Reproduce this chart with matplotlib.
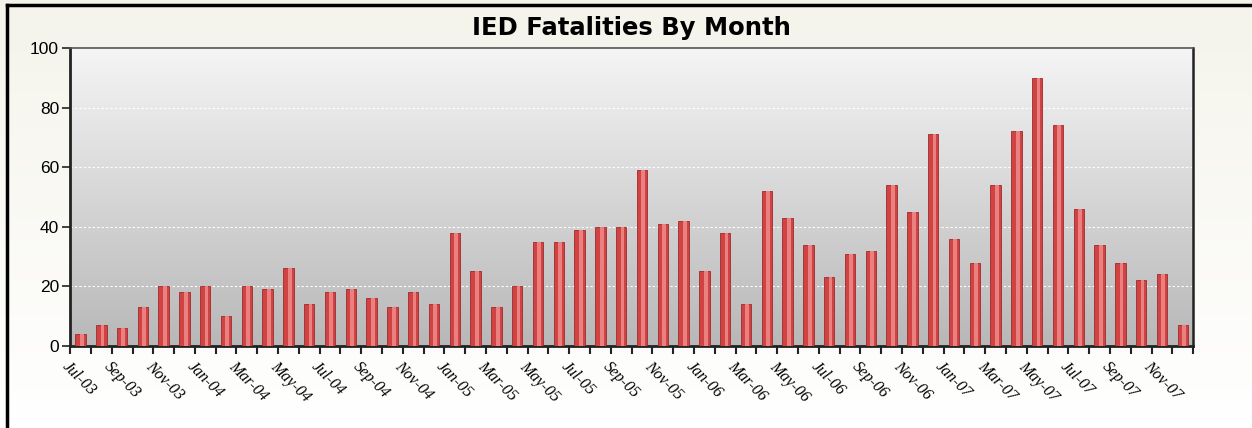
import numpy as np
import matplotlib.pyplot as plt
from matplotlib.lines import Line2D

# months Jul-03 .. Dec-07
months = ["Jul-03", "Aug-03", "Sep-03", "Oct-03", "Nov-03", "Dec-03",
          "Jan-04", "Feb-04", "Mar-04", "Apr-04", "May-04", "Jun-04",
          "Jul-04", "Aug-04", "Sep-04", "Oct-04", "Nov-04", "Dec-04",
          "Jan-05", "Feb-05", "Mar-05", "Apr-05", "May-05", "Jun-05",
          "Jul-05", "Aug-05", "Sep-05", "Oct-05", "Nov-05", "Dec-05",
          "Jan-06", "Feb-06", "Mar-06", "Apr-06", "May-06", "Jun-06",
          "Jul-06", "Aug-06", "Sep-06", "Oct-06", "Nov-06", "Dec-06",
          "Jan-07", "Feb-07", "Mar-07", "Apr-07", "May-07", "Jun-07",
          "Jul-07", "Aug-07", "Sep-07", "Oct-07", "Nov-07", "Dec-07"]
fatalities = [4, 7, 6, 13, 20, 18,
              20, 10, 20, 19, 26, 14,
              18, 19, 16, 13, 18, 14,
              38, 25, 13, 20, 35, 35,
              39, 40, 40, 59, 41, 42,
              25, 38, 14, 52, 43, 34,
              23, 31, 32, 54, 45, 71,
              36, 28, 54, 72, 90, 74,
              46, 34, 28, 22, 24, 7]

fig = plt.figure(figsize=(12.52, 4.28), dpi=100)

# figure background (cream at top to white at bottom)
bg = fig.add_axes([0, 0, 1, 1], zorder=-10)
grad = np.linspace(0, 1, 256).reshape(-1, 1)
bg.imshow(np.dstack([np.interp(grad, [0, 1], [0.96, 1.0]),
                     np.interp(grad, [0, 1], [0.955, 1.0]),
                     np.interp(grad, [0, 1], [0.92, 1.0])]),
          aspect="auto", extent=[0, 1, 0, 1])
bg.axis("off")
# border lines (top and left)
fig.add_artist(Line2D([7 / 1252, 1], [1 - 5 / 428, 1 - 5 / 428], color="black", lw=2.5))
fig.add_artist(Line2D([7 / 1252, 7 / 1252], [0, 1 - 5 / 428], color="black", lw=2.5))

ax = fig.add_axes([0.056, 0.1916, 0.897, 0.6964])
x = np.arange(len(fatalities))
xmin, xmax = -0.5, len(fatalities) - 0.5

# plot area gradient
pg = np.linspace(0.96, 0.72, 256).reshape(-1, 1)
ax.imshow(np.dstack([pg, pg, pg + 0.005]), aspect="auto",
          extent=[xmin, xmax, 0, 100], zorder=0)

for gy in [20, 40, 60, 80]:
    ax.axhline(gy, color="white", lw=0.8, ls=(0, (2, 2)), zorder=1)

ax.bar(x, fatalities, width=0.5, color="#d14343", edgecolor="#9e2a2a",
       linewidth=0.6, zorder=3)
ax.bar(x + 0.06, fatalities, width=0.18, color="#ea8080", linewidth=0, zorder=4)

ax.set_xlim(xmin, xmax)
ax.set_ylim(0, 100)
ax.set_yticks([0, 20, 40, 60, 80, 100])
ax.set_yticklabels(["0", "20", "40", "60", "80", "100"],
                   fontsize=12.5, family="Liberation Sans")
ax.set_xticks(np.arange(len(fatalities) + 1) - 0.5)
ax.set_xticklabels([months[i] if i % 2 == 0 and i < len(months) else ""
                    for i in range(len(fatalities) + 1)],
                   rotation=-45, ha="left", va="top", rotation_mode="anchor",
                   fontsize=11.5, family="Liberation Serif", style="italic")
ax.tick_params(axis="x", length=6, width=1.5, color="#222222", pad=3)
ax.tick_params(axis="y", length=6, width=1.2, color="#222222", pad=2)

for s in ["left", "bottom"]:
    ax.spines[s].set_linewidth(2)
    ax.spines[s].set_color("#222222")
ax.spines["top"].set_linewidth(1.2)
ax.spines["top"].set_color("#555555")
ax.spines["right"].set_color("#222222")
ax.spines["right"].set_linewidth(1.8)

fig.text(0.504, 0.935, "IED Fatalities By Month", ha="center", va="center",
         fontsize=17.5, fontweight="bold", family="DejaVu Sans")

fig.savefig("out.png", dpi=100)
